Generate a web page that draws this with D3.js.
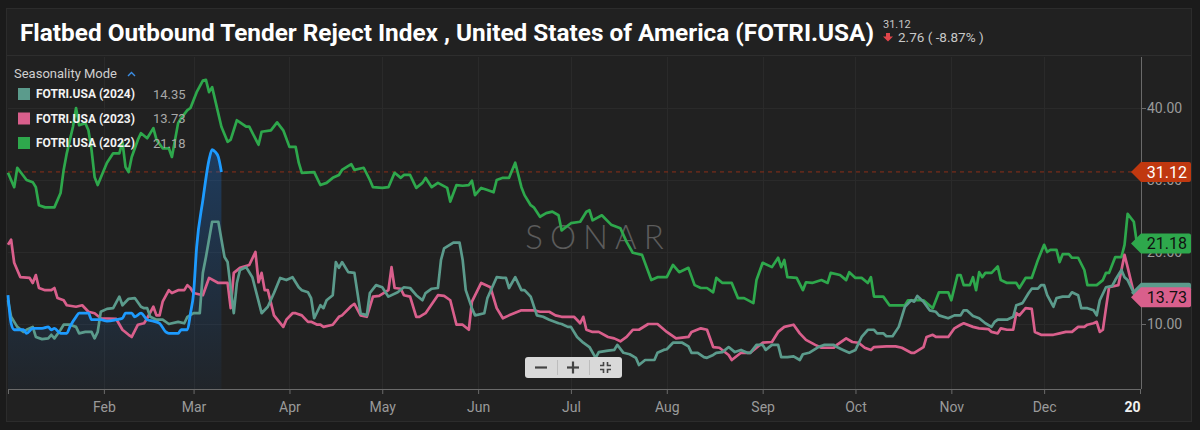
<!DOCTYPE html>
<html>
<head>
<meta charset="utf-8">
<script src="https://cdn.jsdelivr.net/npm/d3@7/dist/d3.min.js"></script>
<style>
  html, body { margin: 0; padding: 0; background: #1b1b1b; }
  svg { display: block; font-family: Roboto, "Open Sans", sans-serif; }
</style>
</head>
<body>
<svg id="chart" width="1200" height="430"></svg>
<script>
// ---------------- DATA ----------------
const chartTitle = "Flatbed Outbound Tender Reject Index , United States of America (FOTRI.USA)";
const lastValue = "31.12";
const changeText = "2.76 ( -8.87% )";
const legendTitle = "Seasonality Mode";
const seriesNames = ["FOTRI.USA (2024)", "FOTRI.USA (2023)", "FOTRI.USA (2022)"];
const seriesLast = [14.35, 13.73, 21.18];
const currentLast = 31.12;

// month tick positions (day of year) and their labels
const monthDays = [0, 31, 60, 91, 121, 152, 182, 213, 244, 274, 305, 335, 366];
const monthLabels = ["", "Feb", "Mar", "Apr", "May", "Jun", "Jul", "Aug", "Sep", "Oct", "Nov", "Dec", "20"];
const yTicks = [10, 20, 30, 40];

// [day of year, value]
const current2025 = [[0,14],[1,10.1],[2,9.2],[5,9.2],[6,8.7],[8,9.4],[11,9.4],[13,9.6],[14,9.2],[15,9.4],[17,8.7],[19,8.7],[20,9.6],[22,11],[23,11.5],[26,11.5],[27,10.6],[30,10.6],[32,10.4],[35,10.6],[37,10.8],[38,11.5],[40,11.5],[41,11],[43,11.5],[45,10.6],[47,10.4],[49,10.1],[51,8.9],[52,8.7],[55,8.7],[56,9.2],[58,9.2],[59,11.5],[60,14.3],[61,20.7],[63,27.2],[65,32.8],[66,34.2],[67,33.9],[68,33.2],[69,31.12]];

const fotri2024 = [[0,13.3],[1,11],[3,9.6],[5,8.9],[6,9.2],[8,9.6],[9,8.2],[11,7.9],[13,8],[14,8.5],[15,8],[17,9.2],[18,9.9],[20,9.9],[22,9.6],[23,8.7],[25,8.9],[27,8.9],[28,8],[29,8.9],[30,11.7],[32,12.1],[34,12.2],[36,13.8],[37,12.6],[39,13.5],[41,13.6],[43,12.4],[44,12.2],[45,12.2],[46,11],[48,10.6],[50,10.6],[52,10],[55,10.3],[57,10.1],[58,11],[60,11.5],[62,11.5],[63,17.1],[64,19.3],[66,24.2],[68,24.2],[70,19.3],[71,18.6],[72,15],[73,11.5],[74,15.7],[75,17.5],[77,17.9],[79,16.5],[82,11.5],[84,12.4],[86,14.3],[88,16.4],[90,16.1],[92,16.5],[94,15.1],[95,14.7],[97,14.4],[98,13.6],[99,10.8],[101,12.6],[102,12.2],[103,13.3],[105,14],[106,18.6],[107,17.8],[108,18.6],[110,17.2],[112,17.1],[113,14.3],[114,11.5],[116,11.2],[117,14.3],[119,15.4],[121,15.1],[123,13.8],[126,14.4],[128,15.1],[130,15],[132,14],[134,13.3],[135,14.3],[137,14.9],[139,15],[140,18.9],[141,20.5],[144,21.3],[146,21.3],[147,18.9],[148,14.7],[150,12.2],[151,11.2],[154,11.5],[155,13.6],[158,16.5],[160,16.4],[161,16.4],[162,15],[164,16.5],[166,14.7],[167,14.7],[169,13.8],[171,11.2],[173,11],[175,10.6],[178,10.1],[179,10],[181,9.6],[182,9.6],[184,8.2],[186,7.4],[188,6.8],[190,5.3],[191,6.1],[194,6.3],[196,6.4],[197,7.1],[199,6],[201,5.8],[203,5.3],[204,4.3],[206,5],[209,5],[210,6],[212,6.4],[213,6.5],[215,7.4],[217,7.4],[218,7.4],[220,6.9],[221,6],[223,6],[225,5.4],[226,5.3],[228,5.7],[229,6],[231,6.1],[233,6.8],[235,6.1],[237,6.4],[239,6],[240,6],[242,7.1],[244,7.1],[245,6.4],[247,7.1],[249,7.1],[250,5.4],[252,5.4],[254,5.5],[256,5],[257,5.8],[259,6],[262,6.8],[264,7.1],[267,7.1],[268,6.8],[270,6.4],[272,6],[274,6.4],[276,8.2],[278,9.2],[280,9.2],[281,8.7],[283,8.7],[284,8.3],[286,8.3],[288,9.6],[290,12.4],[292,13.3],[293,13.1],[294,13.9],[296,13.1],[298,11.9],[300,11.7],[301,11.2],[304,10.8],[306,11.2],[308,11.2],[309,11.9],[310,11.9],[312,11.1],[314,10.8],[316,10.1],[318,9.6],[319,10.3],[320,10.6],[323,10.6],[325,11],[326,12.6],[328,12.9],[330,14.3],[331,14.9],[333,14.9],[334,15.4],[335,15.4],[336,14],[338,12.4],[339,13.6],[341,13.8],[343,13.8],[344,14.4],[346,14],[347,12.2],[349,12.2],[351,11.9],[352,11.2],[353,13.3],[355,15.1],[357,15.3],[358,16.1],[360,17.5],[361,16.5],[362,16.1],[364,14.3],[365,14.35]];

const fotri2023 = [[0,21],[1,21.7],[2,18.5],[4,16.5],[7,16.4],[8,15.7],[9,16.8],[10,15],[12,14.7],[14,14.7],[15,15],[16,13.6],[18,13.3],[19,12.6],[22,12.4],[24,12.6],[26,11.7],[28,11.5],[30,10.8],[35,10.7],[37,9.2],[39,8.5],[40,8.2],[42,9.9],[44,10.1],[45,10.8],[47,12.4],[48,11.2],[49,11.2],[50,13.1],[52,14.7],[53,14.3],[55,14.7],[57,14.7],[58,15.4],[59,15],[60,14.3],[63,14],[65,16.4],[68,15.7],[71,15.7],[72,12.2],[73,17.1],[75,17.8],[78,18.2],[80,20],[81,15.8],[82,17.1],[83,14.7],[84,14.7],[86,11.2],[89,9.6],[90,10.6],[92,11.5],[93,11.5],[95,11.2],[97,10.3],[98,10.3],[100,9.9],[101,9.9],[102,9.6],[105,9.9],[107,11],[108,11.2],[111,12.5],[112,12.8],[114,11.2],[116,11],[118,13.8],[120,13.9],[123,14.7],[124,17.9],[125,15],[127,14.9],[128,14],[130,13.8],[132,11],[133,11],[135,11.5],[139,14],[141,13.9],[143,13.3],[145,9.9],[147,9.9],[149,9.2],[150,13.1],[153,15.7],[156,15.1],[158,12.2],[160,10.8],[162,11.2],[166,11.9],[170,11.9],[172,11.7],[175,11.7],[177,11.2],[179,11],[183,11],[185,10.1],[186,11],[187,9.2],[189,8.9],[191,8.9],[194,8.2],[196,8],[198,7.6],[200,8.2],[202,9.2],[204,9.2],[207,10],[210,10],[213,8.9],[216,8],[220,8.2],[221,8.9],[224,9.4],[226,9.2],[228,6.8],[230,6.7],[233,5.7],[234,5],[237,6],[240,6],[242,6.7],[244,7.4],[247,7.5],[249,8.9],[251,9.6],[254,9.9],[256,8.7],[258,7.8],[261,7.1],[263,6.7],[267,6.7],[268,7.1],[271,8],[273,7.5],[275,7.4],[277,6.7],[279,6.4],[280,6.8],[284,6.9],[287,6.9],[289,6.7],[292,6],[293,6],[296,6.8],[297,8.2],[299,8.5],[300,8.2],[304,8.2],[306,9.4],[308,9.9],[309,10.1],[312,9.6],[314,9.4],[317,9.3],[318,8.9],[320,8.7],[321,9.4],[323,9.2],[325,9.2],[326,11.5],[327,11.2],[329,12.2],[331,12.1],[332,8.9],[334,8.5],[338,8.5],[340,8.7],[342,8.9],[344,8.9],[346,9.6],[348,9.6],[349,9.9],[351,10.1],[352,10.3],[353,8.9],[354,9.2],[355,12.2],[356,15.1],[359,15.4],[360,17.5],[361,19.6],[362,17.9],[364,14.3],[365,13.73]];

const fotri2022 = [[0,31],[2,29],[3,31.7],[6,30],[8,29.7],[9,29],[10,26.5],[12,26.2],[15,26.2],[17,28.2],[18,31.4],[19,33.7],[21,37.4],[22,40],[23,37.6],[25,37.9],[26,36.9],[27,34.2],[28,30.4],[29,29.3],[32,32.4],[34,33.7],[36,33.7],[37,35.3],[38,31.8],[39,31.1],[40,33.2],[42,35.6],[43,36.5],[45,35.8],[47,37.2],[48,35.6],[50,34.4],[52,34.4],[53,33.2],[55,37.9],[56,38.6],[58,39.7],[59,40],[61,42.2],[63,43.8],[64,43.9],[65,42.2],[66,42.9],[69,37.4],[71,35.3],[72,35.6],[74,38.3],[75,38],[77,37.4],[78,37.4],[81,34.9],[82,36.7],[85,36.9],[87,38],[89,36.9],[91,34.6],[93,34.6],[94,32.4],[95,31],[99,31.1],[101,29.3],[103,29.6],[105,30.3],[107,30.7],[108,31.4],[111,32.2],[112,31.4],[115,31.7],[117,30],[118,29],[121,28.9],[123,29],[125,31],[127,30.3],[128,30.7],[130,30.7],[132,28.9],[134,29.6],[135,30.3],[137,29],[139,29.6],[142,28.9],[143,27],[145,29.3],[147,29.2],[149,29.3],[150,29.9],[151,27.9],[153,28.9],[155,28.6],[157,28.3],[158,30],[160,30.3],[162,30.3],[164,32.4],[166,29],[167,27.9],[169,26.5],[170,26.2],[172,24.9],[174,25.4],[176,25.6],[178,25.1],[179,23],[182,24],[185,24.2],[187,25.6],[188,25.8],[189,24.4],[192,25.1],[195,23.8],[198,23.3],[200,21.4],[202,19.9],[205,19.6],[208,16.1],[210,16.5],[213,16.5],[215,18.2],[217,17.2],[220,17.8],[222,15.4],[224,15],[226,15],[228,14.4],[229,16.4],[231,15.7],[234,15.7],[236,13.6],[238,13.6],[241,12.9],[242,16.1],[244,18.5],[247,17.9],[249,19.2],[250,17.9],[251,18.9],[252,16.5],[255,16.4],[257,14.7],[258,15.8],[260,15.7],[263,16.1],[265,15.7],[266,17.1],[269,16.8],[271,16.1],[272,17.2],[274,16.4],[276,16.4],[278,15.7],[279,16.5],[280,13.8],[283,13.8],[285,12.6],[287,12.6],[290,12.6],[291,13.3],[294,13.3],[296,13.3],[299,12.2],[301,14.4],[304,14.4],[305,13.3],[307,16.8],[308,16.8],[309,15.4],[311,15.4],[312,16.5],[313,14.7],[314,17.2],[315,16.5],[316,17.1],[318,17.1],[320,18],[321,16.1],[323,15.7],[326,15.7],[327,15],[329,16.4],[331,16.4],[333,18.9],[335,21],[336,20],[337,20.3],[339,20.3],[340,18.6],[341,19.7],[343,19.7],[344,19.2],[346,19.2],[348,17.5],[349,15.4],[352,15.4],[354,16.1],[355,17.1],[356,17.1],[358,19.3],[360,19.3],[361,21],[362,25.3],[364,24.2],[365,21.18]];

// ---------------- STYLE ----------------
const colors = { y2024: "#5b9b8c", y2023: "#d95f8c", y2022: "#2ea84c", current: "#1d9bff", flag: "#c0380f" };

const W = 1200, H = 430;
const plot = { left: 8, right: 1141, top: 57, bottom: 389 };

const svg = d3.select("#chart");

// background + frame
svg.append("rect").attr("x", 0).attr("y", 0).attr("width", W).attr("height", H).attr("fill", "#1b1b1b");
svg.append("rect").attr("x", 6.5).attr("y", 8.5).attr("width", 1185).attr("height", 413)
  .attr("fill", "#212121").attr("stroke", "#2c2c2c");
svg.append("line").attr("x1", 7).attr("x2", 1191).attr("y1", 55.5).attr("y2", 55.5).attr("stroke", "#2e2e2e");

// scales
const x = d3.scaleLinear().domain([0, 366]).range([plot.left, 1140]);
const y = d3.scaleLinear().domain([10 - 65 / 7.2, 10 + 267 / 7.2]).range([plot.bottom, plot.top]);

// grid
const grid = svg.append("g");
grid.selectAll("line.v").data(monthDays.slice(1, -1)).join("line")
  .attr("x1", d => Math.round(x(d)) + 0.5).attr("x2", d => Math.round(x(d)) + 0.5)
  .attr("y1", plot.top).attr("y2", plot.bottom).attr("stroke", "#2a2a2a");
grid.selectAll("line.h").data(yTicks).join("line")
  .attr("x1", plot.left).attr("x2", plot.right)
  .attr("y1", d => Math.round(y(d)) + 0.5).attr("y2", d => Math.round(y(d)) + 0.5).attr("stroke", "#2a2a2a");

// watermark
svg.append("text").attr("x", 598).attr("y", 249).attr("text-anchor", "middle")
  .attr("font-family", "Lato, Roboto, sans-serif").attr("font-weight", 300)
  .attr("font-size", 33).attr("letter-spacing", 7).attr("fill", "#5c5c5c").text("SONAR");

// current-value dashed line
svg.append("line").attr("x1", plot.left).attr("x2", plot.right)
  .attr("y1", y(currentLast)).attr("y2", y(currentLast))
  .attr("stroke", "#8c2d17").attr("stroke-width", 1).attr("stroke-dasharray", "4,4");

// area gradient for current series
const defs = svg.append("defs");
const grad = defs.append("linearGradient").attr("id", "blueFill")
  .attr("gradientUnits", "userSpaceOnUse").attr("x1", 0).attr("x2", 0)
  .attr("y1", plot.top).attr("y2", plot.bottom);
grad.append("stop").attr("offset", "0%").attr("stop-color", "#1a6fd0").attr("stop-opacity", 0.45);
grad.append("stop").attr("offset", "100%").attr("stop-color", "#1a6fd0").attr("stop-opacity", 0.05);

const line = d3.line().x(d => x(d[0])).y(d => y(d[1]));
const area = d3.area().x(d => x(d[0])).y0(plot.bottom).y1(d => y(d[1])).curve(d3.curveMonotoneX);

svg.append("path").datum(current2025).attr("d", area).attr("fill", "url(#blueFill)");

const seriesList = [
  { data: fotri2022, color: colors.y2022 },
  { data: fotri2023, color: colors.y2023 },
  { data: fotri2024, color: colors.y2024 }
];
seriesList.forEach(s => {
  svg.append("path").datum(s.data).attr("d", line).attr("fill", "none")
    .attr("stroke", s.color).attr("stroke-width", 2.7).attr("stroke-linejoin", "round");
});
svg.append("path").datum(current2025).attr("d", line.curve(d3.curveMonotoneX)).attr("fill", "none")
  .attr("stroke", colors.current).attr("stroke-width", 2.8).attr("stroke-linejoin", "round");

// x axis
const xAxis = d3.axisBottom(x).tickValues(monthDays).tickSize(5).tickFormat((d, i) => monthLabels[i]);
const gx = svg.append("g").attr("transform", `translate(0,${plot.bottom})`).call(xAxis);
gx.select(".domain").attr("stroke", "#6a6a6a").attr("d", `M${plot.left},0.5H${plot.right}`);
gx.selectAll(".tick line").attr("stroke", "#6a6a6a");
gx.selectAll(".tick text").attr("fill", "#9a9a9a").attr("font-size", 14).attr("dy", "1.05em")
  .attr("font-family", "Roboto, sans-serif");
gx.selectAll(".tick").filter((d, i) => i === monthLabels.length - 1).select("text")
  .attr("fill", "#f0f0f0").attr("font-weight", "bold").attr("dx", -8);

// y axis (right)
const yAxis = d3.axisRight(y).tickValues(yTicks).tickSize(5).tickFormat(d3.format(".2f"));
const gy = svg.append("g").attr("transform", `translate(${plot.right},0)`).call(yAxis);
gy.select(".domain").attr("stroke", "#6a6a6a").attr("d", `M0.5,${plot.top}V${plot.bottom}`);
gy.selectAll(".tick line").attr("stroke", "#6a6a6a");
gy.selectAll(".tick text").attr("fill", "#9a9a9a").attr("font-size", 14).attr("x", 6)
  .attr("font-family", "Roboto, sans-serif");

// value flags on right axis
function flag(value, fill, textFill, showText) {
  const yy = y(value);
  const g = svg.append("g").attr("transform", `translate(0,${yy})`);
  g.append("path").attr("d", "M1131,0 L1141,-10 L1189,-10 Q1191,-10 1191,-8 L1191,8 Q1191,10 1189,10 L1141,10 Z")
    .attr("fill", fill);
  if (showText) {
    g.append("text").attr("x", 1187).attr("y", 0).attr("dy", "0.36em").attr("text-anchor", "end")
      .attr("font-size", 16).attr("fill", textFill).text(d3.format(".2f")(value));
  }
}
flag(currentLast, colors.flag, "#ffffff", true);
flag(seriesLast[2], colors.y2022, "#111111", true);
flag(seriesLast[0], colors.y2024, "#111111", false); // hidden beneath the 2023 flag
flag(seriesLast[1], colors.y2023, "#111111", true);

// title
svg.append("text").attr("x", 20).attr("y", 41).attr("font-size", 23).attr("font-weight", "bold")
  .attr("fill", "#ffffff").attr("textLength", 854).attr("lengthAdjust", "spacingAndGlyphs").text(chartTitle);
svg.append("text").attr("x", 883).attr("y", 28).attr("font-size", 11).attr("fill", "#c8c8c8").text(lastValue);
svg.append("path").attr("d", "M886,33 h4 v3.5 h3 l-5,5 l-5,-5 h3 Z").attr("fill", "#e0454a");
svg.append("text").attr("x", 898).attr("y", 42).attr("font-size", 13.5).attr("fill", "#c8c8c8").text(changeText);

// legend
svg.append("text").attr("x", 14).attr("y", 78).attr("font-size", 13).attr("fill", "#cfcfcf").text(legendTitle);
svg.append("path").attr("d", "M128,76 l3.5,-3.5 l3.5,3.5").attr("fill", "none").attr("stroke", "#3a8ee6").attr("stroke-width", 1.4);
const legColors = [colors.y2024, colors.y2023, colors.y2022];
seriesNames.forEach((name, i) => {
  const cy = 94 + i * 24.5;
  svg.append("rect").attr("x", 18).attr("y", cy - 6).attr("width", 12).attr("height", 12).attr("fill", legColors[i]);
  svg.append("text").attr("x", 36).attr("y", cy).attr("dy", "0.36em").attr("font-size", 12).attr("font-weight", "bold")
    .attr("fill", "#f2f2f2").text(name);
  svg.append("text").attr("x", 153).attr("y", cy).attr("dy", "0.36em").attr("font-size", 13)
    .attr("fill", "#a8a8a8").text(d3.format(".2f")(seriesLast[i]));
});

// zoom controls
const zc = svg.append("g").attr("transform", "translate(525,357)");
zc.append("rect").attr("width", 97).attr("height", 21).attr("rx", 3).attr("fill", "#d9d9d9");
zc.append("line").attr("x1", 32.5).attr("x2", 32.5).attr("y1", 3).attr("y2", 18).attr("stroke", "#bdbdbd");
zc.append("line").attr("x1", 64.5).attr("x2", 64.5).attr("y1", 3).attr("y2", 18).attr("stroke", "#bdbdbd");
zc.append("line").attr("x1", 10).attr("x2", 22).attr("y1", 10.5).attr("y2", 10.5).attr("stroke", "#444").attr("stroke-width", 2.2);
zc.append("line").attr("x1", 42).attr("x2", 54).attr("y1", 10.5).attr("y2", 10.5).attr("stroke", "#444").attr("stroke-width", 2.2);
zc.append("line").attr("x1", 48).attr("x2", 48).attr("y1", 4.5).attr("y2", 16.5).attr("stroke", "#444").attr("stroke-width", 2.2);
zc.append("path").attr("d", "M75,8.5 h3.5 v-3.5 M86,8.5 h-3.5 v-3.5 M75,12.5 h3.5 v3.5 M86,12.5 h-3.5 v3.5")
  .attr("fill", "none").attr("stroke", "#444").attr("stroke-width", 1.6);
</script>
</body>
</html>
